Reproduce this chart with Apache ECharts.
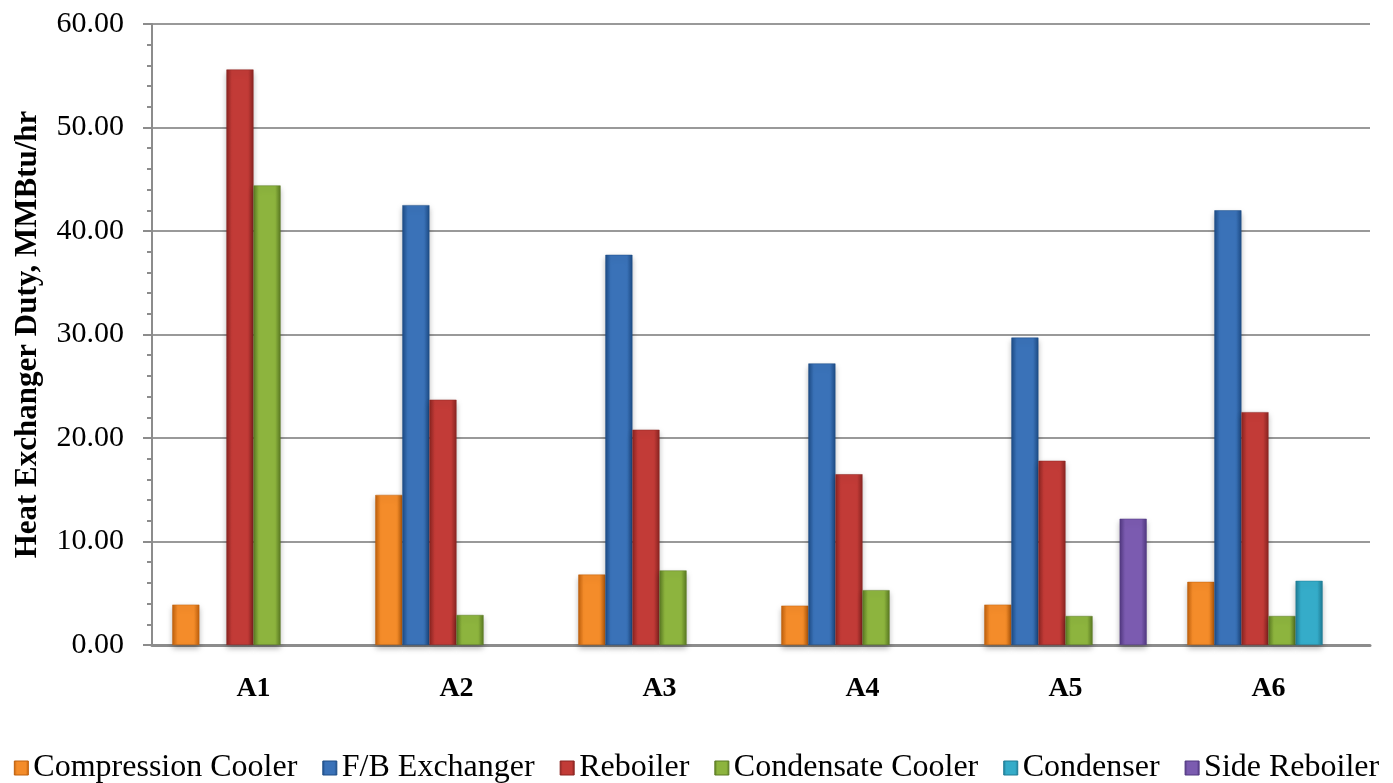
<!DOCTYPE html>
<html>
<head>
<meta charset="utf-8">
<script src="https://cdn.jsdelivr.net/npm/echarts@6/dist/echarts.min.js"></script>
</head>
<body style="margin:0;background:#fff">
<div id="main" style="width:1393px;height:783px"></div>
<script>
// cases and per-exchanger duties (MMBtu/hr)
var cases = ['A1', 'A2', 'A3', 'A4', 'A5', 'A6'];
var compressionCooler = [3.9, 14.5, 6.8, 3.8, 3.9, 6.1];
var fbExchanger = [0, 42.5, 37.7, 27.2, 29.7, 42.0];
var reboiler = [55.6, 23.7, 20.8, 16.5, 17.8, 22.5];
var condensateCooler = [44.4, 2.9, 7.2, 5.3, 2.8, 2.8];
var condenser = [0, 0, 0, 0, 0, 6.2];
var sideReboiler = [0, 0, 0, 0, 12.2, 0];

var seriesNames = ['Compression Cooler', 'F/B Exchanger', 'Reboiler', 'Condensate Cooler', 'Condenser', 'Side Reboiler'];
var seriesData = [compressionCooler, fbExchanger, reboiler, condensateCooler, condenser, sideReboiler];
// [edge, middle] colours
var palette = [
    ['#c0600c', '#f48c2a'],
    ['#1d4c86', '#3a72b8'],
    ['#8a2421', '#c23b37'],
    ['#5a7a22', '#8db43e'],
    ['#1f7c95', '#35acc9'],
    ['#513880', '#7b5bb0']
];

function barColor(p) {
    return new echarts.graphic.LinearGradient(0, 0, 1, 0, [
        { offset: 0, color: p[0] },
        { offset: 0.2, color: p[1] },
        { offset: 0.8, color: p[1] },
        { offset: 1, color: p[0] }
    ]);
}

var chart = echarts.init(document.getElementById('main'));
var font = '"Liberation Serif", "Times New Roman", serif';

var series = seriesNames.map(function (name, i) {
    return {
        name: name,
        type: 'bar',
        // no bar is drawn where the exchanger is absent
        data: seriesData[i].map(function (v) { return v === 0 ? '-' : v; }),
        barGap: '0%',
        barCategoryGap: '20%',
        itemStyle: {
            color: barColor(palette[i]),
            borderColor: palette[i][0],
            borderWidth: 0.5,
            shadowColor: 'rgba(0,0,0,0.3)',
            shadowBlur: 6,
            shadowOffsetY: 3
        }
    };
});

chart.setOption({
    animation: false,
    grid: { left: 152, right: 23, top: 24, bottom: 138, outerBoundsMode: 'none', containLabel: false },
    legend: {
        bottom: -6,
        left: 'center',
        icon: 'rect',
        itemWidth: 14,
        itemHeight: 14,
        itemGap: 25,
        textStyle: { fontFamily: font, fontSize: 32, color: '#000' },
        data: seriesNames.map(function (n, i) {
            return { name: n, itemStyle: { color: barColor(palette[i]), borderColor: palette[i][0], borderWidth: 1 } };
        })
    },
    xAxis: {
        type: 'category',
        data: cases,
        axisTick: { show: false },
        axisLine: { lineStyle: { color: '#8c8c8c', width: 3 } },
        axisLabel: { fontFamily: font, fontSize: 28, fontWeight: 'bold', color: '#000', margin: 30 }
    },
    yAxis: {
        type: 'value',
        min: 0,
        max: 60,
        interval: 10,
        name: 'Heat Exchanger Duty, MMBtu/hr',
        nameLocation: 'middle',
        nameGap: 109,
        nameTextStyle: { fontFamily: font, fontSize: 31, fontWeight: 'bold', color: '#000' },
        axisLine: { show: true, lineStyle: { color: '#8c8c8c', width: 2 } },
        axisTick: { show: true, length: 9, lineStyle: { color: '#8c8c8c', width: 2 } },
        minorTick: { show: true, splitNumber: 5, length: 5, lineStyle: { color: '#8c8c8c', width: 2 } },
        splitLine: { lineStyle: { color: '#999', width: 2 } },
        axisLabel: {
            fontFamily: font, fontSize: 30, color: '#000', margin: 28,
            formatter: function (v) { return v.toFixed(2); }
        }
    },
    series: series
});
</script>
</body>
</html>
